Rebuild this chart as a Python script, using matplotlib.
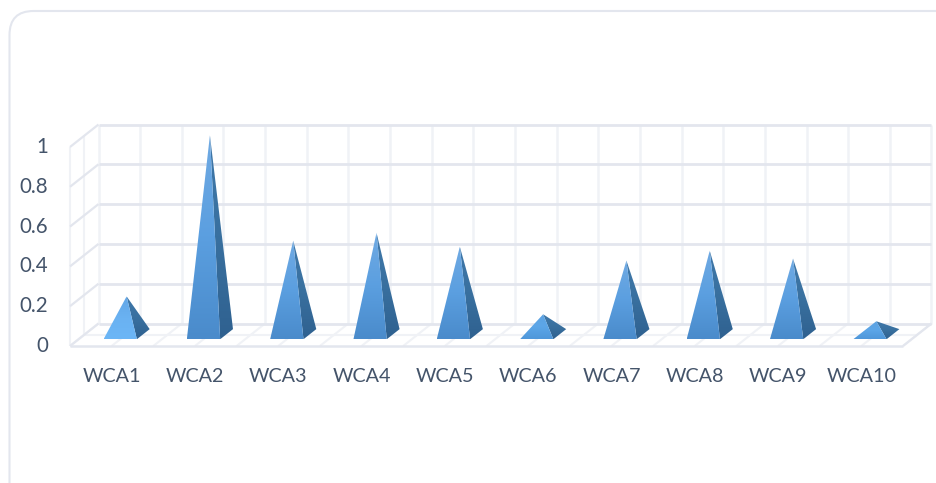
import matplotlib
matplotlib.use('Agg')
import matplotlib.pyplot as plt
from matplotlib.colors import LinearSegmentedColormap
from matplotlib.patches import FancyBboxPatch, Polygon
from matplotlib.transforms import IdentityTransform
import numpy as np

plt.rcParams['font.family'] = ['Lato', 'DejaVu Sans']

categories = ['WCA1', 'WCA2', 'WCA3', 'WCA4', 'WCA5', 'WCA6', 'WCA7', 'WCA8', 'WCA9', 'WCA10']
values = [0.19, 1.0, 0.47, 0.51, 0.44, 0.10, 0.37, 0.42, 0.38, 0.065]
y_ticks = [0, 0.2, 0.4, 0.6, 0.8, 1]
y_tick_labels = ['0', '0.2', '0.4', '0.6', '0.8', '1']

W, H = 936, 483
# plot box in pixels
x0_px, y0_px = 70, 346
cat_px, unit_px = 83.3, 199
depth_x, depth_y = 28.5 / cat_px, 22.5 / unit_px
n = len(categories)

wall_col = '#e3e6ee'
grid_col = '#f0f2f6'
text_col = '#44546a'


def proj(x, y, d=0.0):
    # category x, value y and depth d (0 front, 1 back wall) to data coordinates
    return x + d * depth_x, y + d * depth_y


fig = plt.figure(figsize=(W / 100, H / 100), dpi=100)
ax = fig.add_axes([0, 0, 1, 1])
ax.axis('off')

# card outline, runs off the right and bottom edges
card = FancyBboxPatch((9.5, -30), 1000, H + 30 - 11, boxstyle='round,pad=0,rounding_size=24',
                      fc='white', ec=wall_col, lw=1.5)
ax.add_patch(card)
card.set_transform(IdentityTransform())


def seg(p, q, c, lw):
    ax.plot([p[0], q[0]], [p[1], q[1]], color=c, lw=lw, solid_capstyle='butt', zorder=1)


# vertical grid on the back wall and floor rungs
for i in range(2 * n + 1):
    x = i / 2
    seg(proj(x, 0, 1), proj(x, 1, 1), grid_col, 1.8)
    seg(proj(x, 0, 0), proj(x, 0, 1), grid_col, 1.5)
seg(proj(0, 0, 0.5), proj(0, 1, 0.5), grid_col, 1.5)
seg(proj(0, 0, 0), proj(0, 1, 0), grid_col, 1.5)
seg(proj(0, 0, 0.5), proj(n, 0, 0.5), grid_col, 1.5)

# horizontal lines on the back wall plus the left wall
for t in y_ticks:
    seg(proj(0, t, 1), proj(n, t, 1), wall_col, 2)
    seg(proj(0, t, 0), proj(0, t, 1), wall_col, 1.6)
seg(proj(0, 0, 0), proj(n, 0, 0), wall_col, 1.8)
seg(proj(n, 0, 0), proj(n, 0, 1), wall_col, 1.6)

front_cmap = LinearSegmentedColormap.from_list('front', ['#4a8bcb', '#5b9fe0', '#70aae3'])
light_cmap = LinearSegmentedColormap.from_list('light', ['#6cb6f6', '#6ab2f2', '#62a6e6'])
low_cmap = LinearSegmentedColormap.from_list('low', ['#4f97da', '#5ca6e8', '#5ea3e2'])
side_cmap = LinearSegmentedColormap.from_list('side', ['#2f6190', '#39709f', '#3f78aa'])


def gradient_face(pts, cmap):
    pts = np.array(pts)
    grad = np.linspace(0, 1, 128).reshape(-1, 1)
    im = ax.imshow(grad, cmap=cmap, origin='lower', aspect='auto', zorder=3, interpolation='bilinear',
                   extent=[pts[:, 0].min(), pts[:, 0].max(), pts[:, 1].min(), pts[:, 1].max()])
    im.set_clip_path(Polygon(pts, transform=ax.transData))


half = 0.2
d_front, d_back = 0.3, 0.75
for i, v in enumerate(values):
    c = i + 0.5
    fl = proj(c - half, 0, d_front)
    fr = proj(c + half, 0, d_front)
    br = proj(c + half, 0, d_back)
    apex = proj(c, v, (d_front + d_back) / 2)
    cmap = light_cmap if i == 0 else low_cmap if v < 0.15 else front_cmap
    gradient_face([fr, br, apex], side_cmap)
    gradient_face([fl, fr, apex], cmap)

ax.set_xlim(-x0_px / cat_px, (W - x0_px) / cat_px)
ax.set_ylim(-(H - y0_px) / unit_px, y0_px / unit_px)

for i, name in enumerate(categories):
    ax.text(i + 0.5, -30 / unit_px, name, ha='center', va='center', fontsize=14.2, color=text_col)
for t, lab in zip(y_ticks, y_tick_labels):
    ax.text(-22 / cat_px, t, lab, ha='right', va='center', fontsize=14.8, color=text_col)

fig.savefig('out.png', dpi=100)
